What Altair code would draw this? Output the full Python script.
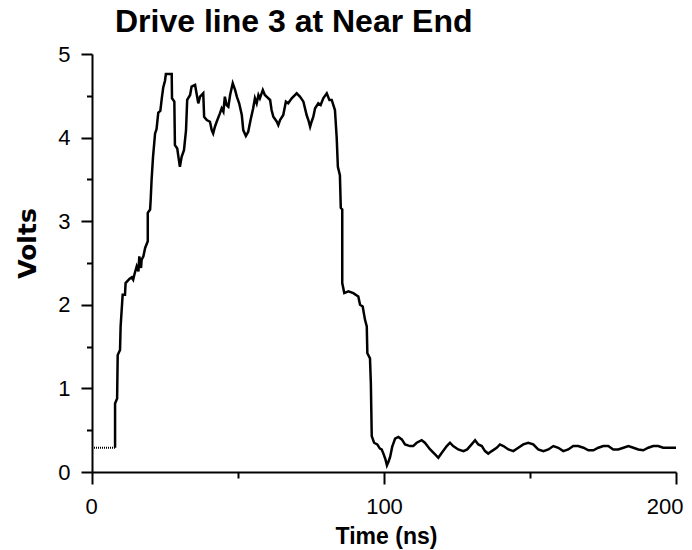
import altair as alt
import pandas as pd

title_text = "Drive line 3 at Near End"
x_title = "Time (ns)"
y_title = "Volts"

x_major = [0, 100, 200]
x_minor = [50, 150]
y_major = [0, 1, 2, 3, 4, 5]
y_minor = [0.5, 1.5, 2.5, 3.5, 4.5]

# flat (dotted) baseline before the edge
pre_t = [0.0, 7.9]
pre_v = [0.29, 0.29]

# main trace
t = [7.9, 7.9, 8.6, 8.8, 9.6, 9.8, 10.5, 11.3, 11.5, 12.8, 13.6, 14.1, 14.5, 15.3, 15.9, 16.2,
     16.8, 17.0, 17.6, 18.2, 19.1, 19.1, 19.9, 20.1, 20.4, 20.9, 21.6, 22.1, 22.7, 23.4, 23.9,
     24.4, 25.0, 25.3, 27.3, 27.4, 28.2, 28.4, 29.2, 29.6, 30.1, 30.7, 31.5, 32.2, 32.6, 33.6,
     34.1, 35.3, 35.9, 36.4, 37.0, 38.1, 38.4, 39.3, 40.4, 41.0, 41.5, 42.1, 42.7, 43.8, 44.4,
     45.0, 45.5, 46.1, 46.7, 47.3, 48.2, 49.0, 49.6, 50.4, 51.3, 51.8, 52.7, 53.5, 54.3, 55.2,
     55.8, 56.4, 57.0, 57.5, 58.5, 59.2, 59.8, 61.0, 61.5, 62.1, 63.3, 63.8, 64.4, 65.5, 66.4,
     67.2, 68.4, 70.1, 71.2, 72.4, 73.5, 74.1, 74.7, 75.2, 75.8, 76.4, 77.5, 78.3, 79.2, 80.4,
     81.3, 82.1, 83.2, 83.8, 84.2, 84.9, 85.2, 85.7, 85.7, 86.4, 87.8, 89.5, 91.2, 91.8, 92.7,
     93.5, 94.1, 94.3, 95.2, 95.5, 95.8, 96.6, 97.7, 98.6, 99.2, 99.8, 100.5, 101.0, 101.5,
     102.1, 102.8, 103.8, 104.9, 106.1, 107.2, 108.9, 110.0, 111.2, 112.9, 114.0, 115.8, 117.5,
     118.6, 119.8, 121.5, 122.6, 123.7, 125.4, 127.2, 128.5, 130.0, 131.2, 132.3, 133.5, 134.6,
     135.7, 136.9, 138.6, 139.7, 140.9, 142.6, 144.3, 146.0, 147.7, 149.4, 151.1, 152.8, 154.6,
     156.3, 158.0, 159.7, 161.4, 163.1, 164.8, 166.5, 168.3, 170.0, 171.7, 173.4, 175.1, 176.8,
     178.5, 180.2, 182.0, 183.7, 185.4, 187.1, 188.8, 190.5, 192.2, 193.9, 195.6, 197.4, 200.0]
v = [0.29, 0.82, 0.88, 1.40, 1.46, 1.74, 2.12, 2.12, 2.26, 2.31, 2.33, 2.30, 2.36, 2.46, 2.40, 2.58,
     2.44, 2.54, 2.58, 2.68, 2.76, 3.10, 3.14, 3.26, 3.49, 3.77, 4.05, 4.10, 4.30, 4.32, 4.47,
     4.60, 4.68, 4.76, 4.76, 4.47, 4.43, 3.91, 3.87, 3.77, 3.65, 3.77, 3.85, 4.09, 4.45, 4.51,
     4.61, 4.63, 4.51, 4.41, 4.49, 4.53, 4.25, 4.21, 4.19, 4.09, 4.05, 4.13, 4.19, 4.29, 4.35,
     4.31, 4.49, 4.39, 4.37, 4.51, 4.65, 4.57, 4.49, 4.41, 4.27, 4.09, 4.02, 4.07, 4.21, 4.35,
     4.47, 4.41, 4.51, 4.47, 4.57, 4.51, 4.49, 4.45, 4.33, 4.25, 4.19, 4.15, 4.21, 4.27, 4.43,
     4.41, 4.47, 4.53, 4.49, 4.43, 4.27, 4.21, 4.13, 4.19, 4.25, 4.35, 4.41, 4.39, 4.47, 4.53,
     4.45, 4.45, 4.33, 4.00, 3.65, 3.55, 3.16, 3.14, 2.26, 2.14, 2.16, 2.14, 2.10, 2.00, 1.98,
     1.82, 1.74, 1.42, 1.36, 1.06, 0.43, 0.35, 0.33, 0.28, 0.27, 0.22, 0.15, 0.08, 0.12,
     0.18, 0.30, 0.40, 0.42, 0.39, 0.33, 0.31, 0.31, 0.35, 0.38, 0.35, 0.27, 0.21,
     0.17, 0.23, 0.31, 0.35, 0.31, 0.27, 0.25, 0.27, 0.33, 0.38, 0.33, 0.31, 0.25,
     0.22, 0.25, 0.29, 0.33, 0.31, 0.27, 0.25, 0.29, 0.33, 0.35, 0.33, 0.27, 0.25,
     0.27, 0.31, 0.29, 0.25, 0.27, 0.31, 0.31, 0.29, 0.26, 0.26, 0.29, 0.31, 0.31,
     0.27, 0.27, 0.29, 0.31, 0.29, 0.27, 0.26, 0.29, 0.31, 0.31, 0.29, 0.29, 0.29]

df = pd.DataFrame({"t": t, "v": v, "i": list(range(len(t)))})
pre = pd.DataFrame({"t": pre_t, "v": pre_v, "i": list(range(len(pre_t)))})

FONT = "Liberation Sans"
xs = alt.Scale(domain=[0, 200], nice=False, zero=False)
ys = alt.Scale(domain=[0, 5], nice=False)

main = alt.Chart(df).mark_line(color="black", strokeWidth=2.5).encode(
    x=alt.X("t:Q", scale=xs, axis=alt.Axis(
        orient="bottom", values=x_major, tickSize=12, tickWidth=2, tickColor="black",
        domainWidth=2, domainColor="black", labelFont=FONT, labelFontSize=22,
        labelColor="black", labelPadding=12, labelFlush=True, labelFlushOffset=7,
        format="d", grid=False,
        title=x_title, titleFont=FONT, titleFontSize=23, titleFontWeight="bold",
        titleColor="black", titleX=294, titleY=71, titleBaseline="alphabetic",
        titleAlign="center")),
    y=alt.Y("v:Q", scale=ys, axis=alt.Axis(
        orient="left", values=y_major, tickSize=11, tickWidth=2, tickColor="black",
        domainWidth=2, domainColor="black", labelFont=FONT, labelFontSize=22,
        labelColor="black", labelPadding=11, labelFlush=False, format="d", grid=False,
        title=y_title, titleFont="DejaVu Sans", titleFontSize=25, titleFontWeight="bold",
        titleColor="black", titleX=-57, titleY=189, titleAngle=270,
        titleBaseline="alphabetic", titleAlign="center")),
    order="i:Q",
)

flat = alt.Chart(pre).mark_line(color="black", strokeWidth=2, strokeDash=[1, 1]).encode(
    x=alt.X("t:Q", scale=xs, axis=alt.Axis(
        orient="bottom", values=x_minor, tickSize=6, tickWidth=2, tickColor="black",
        domain=False, labels=False, grid=False, title=None)),
    y=alt.Y("v:Q", scale=ys, axis=alt.Axis(
        orient="left", values=y_minor, tickSize=5.5, tickWidth=2, tickColor="black",
        domain=False, labels=False, grid=False, title=None)),
    order="i:Q",
)

chart = alt.layer(main, flat).resolve_axis(x="independent", y="independent").properties(
    width=584,
    height=418,
    title=alt.TitleParams(title_text, anchor="start", frame="group", dx=23, offset=4,
                          fontSize=32, font=FONT, fontWeight="bold", color="black"),
    autosize=alt.AutoSizeParams(type="none"),
    padding={"left": 84, "top": 46, "right": 8, "bottom": 78},
).configure(background="white").configure_view(stroke=None)

chart.save("out.html", embed_options={"renderer": "svg", "actions": False})
